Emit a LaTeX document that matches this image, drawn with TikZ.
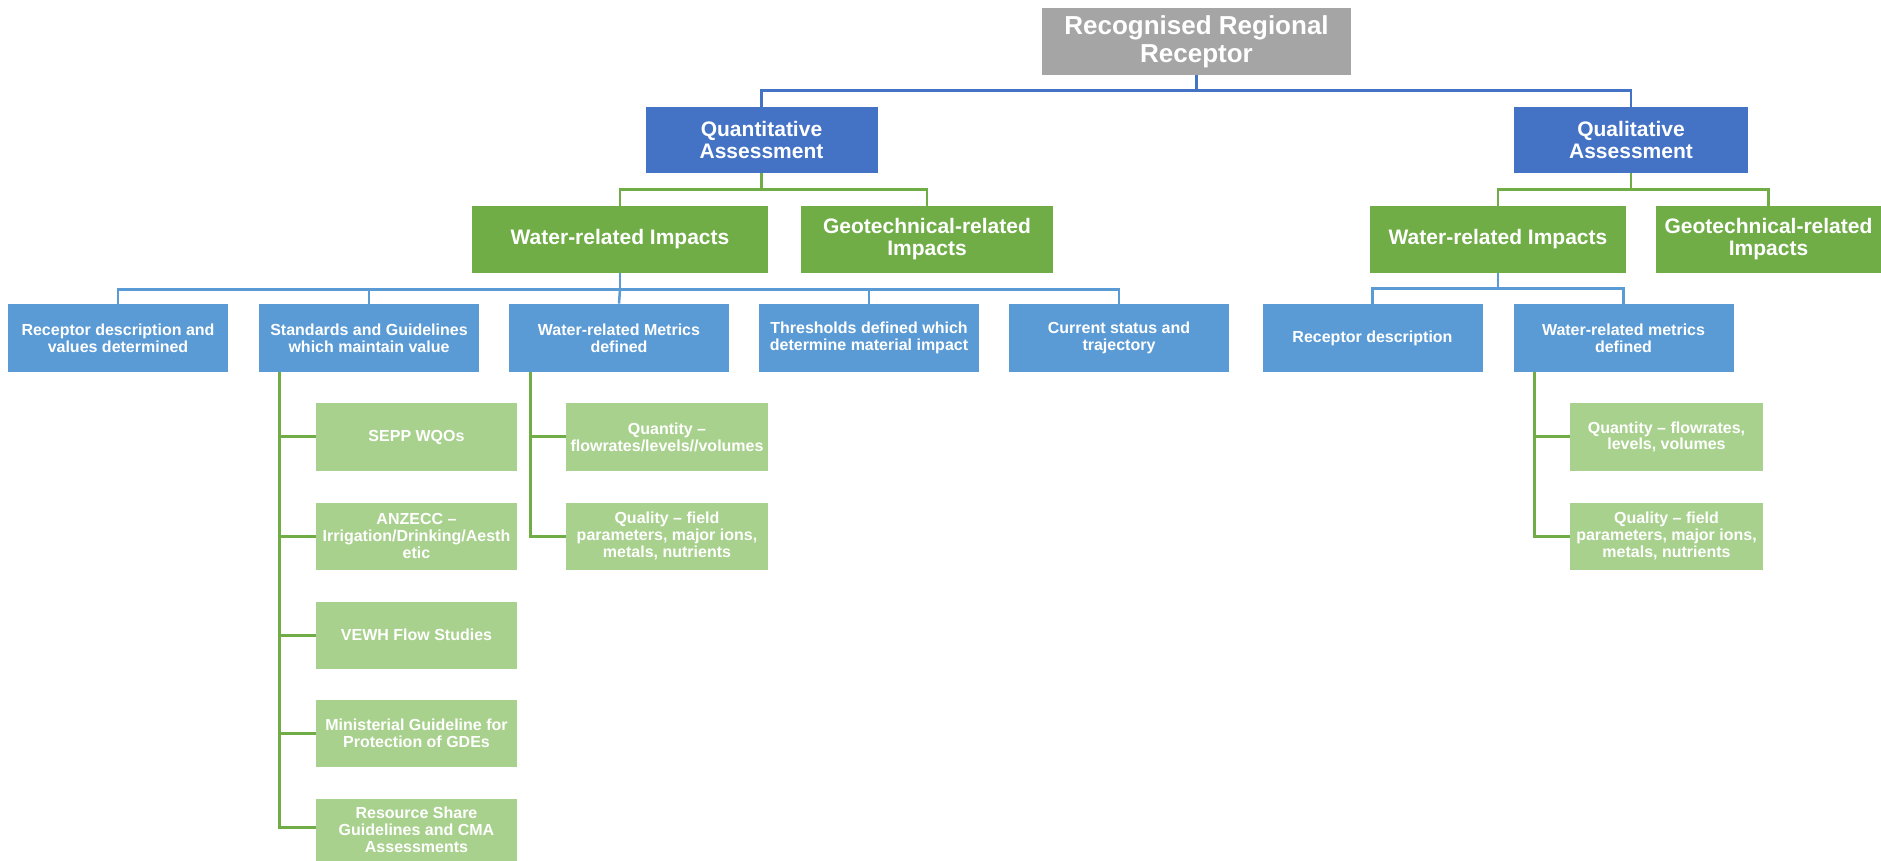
\documentclass[tikz,border=0pt]{standalone}
\usepackage{fontspec}
\setmainfont{Liberation Sans}
\definecolor{rootgray}{HTML}{A5A5A5}
\definecolor{darkblue}{HTML}{4472C4}
\definecolor{midgreen}{HTML}{70AD47}
\definecolor{midblue}{HTML}{5B9BD5}
\definecolor{lightgreen}{HTML}{A9D18E}
\tikzset{
  box/.style={inner sep=0pt, align=center, text=white, font=\bfseries},
  rootbox/.style={box, fill=rootgray, font=\bfseries\fontsize{13}{13.8}\selectfont},
  assessbox/.style={box, fill=darkblue, minimum width=116pt, minimum height=33pt, font=\bfseries\fontsize{10.5}{11}\selectfont},
  impactbox/.style={box, fill=midgreen, minimum height=33.5pt, font=\bfseries\fontsize{10.5}{11}\selectfont},
  itembox/.style={box, fill=midblue, minimum width=110pt, minimum height=34pt, font=\bfseries\fontsize{8}{8.4}\selectfont},
  subbox/.style={box, fill=lightgreen, minimum height=33.5pt, font=\bfseries\fontsize{8}{8.4}\selectfont},
  cdark/.style={draw=darkblue, line width=1.25pt},
  cblue/.style={draw=midblue, line width=1.25pt},
  cgreen/.style={draw=midgreen, line width=1.25pt},
  csub/.style={draw=midgreen, line width=1.5pt},
}
\begin{document}
\begin{tikzpicture}[x=0.5pt, y=-0.5pt]
\useasboundingbox (0,0) rectangle (1881,861);
% level 0
\node[rootbox, minimum width=154.5pt, minimum height=33.5pt] (root) at (1196.5,41.5) {Recognised Regional\\Receptor};
% level 1
\node[assessbox] (quant) at (761.5,140) {Quantitative\\Assessment};
\node[assessbox, minimum width=117pt] (qual) at (1631,140) {Qualitative\\Assessment};
% level 2
\node[impactbox, minimum width=148pt] (waterL) at (620,239.5) {Water-related Impacts};
\node[impactbox, minimum width=126pt] (geoL) at (927,239.5) {Geotechnical-related\\Impacts};
\node[impactbox, minimum width=128pt] (waterR) at (1498,239.5) {Water-related Impacts};
\node[impactbox, minimum width=112.5pt] (geoR) at (1768.5,239.5) {Geotechnical-related\\Impacts};
% level 3
\node[itembox] (recL) at (118,338) {Receptor description and\\values determined};
\node[itembox] (std) at (369,338) {Standards and Guidelines\\which maintain value};
\node[itembox] (met) at (619,338) {Water-related Metrics\\defined};
\node[itembox] (thr) at (869,338) {Thresholds defined which\\determine material impact};
\node[itembox] (cur) at (1119,338) {Current status and\\trajectory};
\node[itembox] (recR) at (1372.5,338) {Receptor description};
\node[itembox] (metR) at (1623.5,338) {Water-related metrics\\defined};
% level 4 left
\node[subbox, minimum width=100.5pt] (sepp) at (416.5,437) {SEPP WQOs};
\node[subbox, minimum width=100.5pt] (anz) at (416.5,536) {ANZECC --\\Irrigation/Drinking/Aesth\\etic};
\node[subbox, minimum width=100.5pt] (vewh) at (416.5,635) {VEWH Flow Studies};
\node[subbox, minimum width=100.5pt] (mini) at (416.5,733.5) {Ministerial Guideline for\\Protection of GDEs};
\node[subbox, minimum width=100.5pt, minimum height=31pt] (res) at (416.5,830) {Resource Share\\Guidelines and CMA\\Assessments};
% level 4 middle
\node[subbox, minimum width=101pt] (qtyL) at (667,437) {Quantity --\\flowrates/levels//volumes};
\node[subbox, minimum width=101pt] (qlyL) at (667,536) {Quality -- field\\parameters, major ions,\\metals, nutrients};
% level 4 right
\node[subbox, minimum width=96.5pt] (qtyR) at (1666.5,437) {Quantity -- flowrates,\\levels, volumes};
\node[subbox, minimum width=96.5pt] (qlyR) at (1666.5,536) {Quality -- field\\parameters, major ions,\\metals, nutrients};
% connectors root
\draw[cdark] (root.south) -- ++(0,15) coordinate (b1);
\draw[cdark] (quant.north) |- (b1) -| (qual.north);
% connectors assessments
\draw[cgreen] (quant.south) -- ++(0,16) coordinate (g1);
\draw[cgreen] (waterL.north) |- (g1) -| (geoL.north);
\draw[cgreen] (qual.south) -- ++(0,16) coordinate (g2);
\draw[cgreen] (waterR.north) |- (g2) -| (geoR.north);
% connectors water impacts
\draw[cblue] (waterL.south) -- ++(0,16) coordinate (b2);
\draw[cblue] (recL.north) |- (b2) -| (cur.north);
\draw[cblue] (std.north) -- (std.north |- b2);
\draw[cblue] (thr.north) -- (thr.north |- b2);
\draw[cblue] (b2) -- (met.north);
\draw[cblue] (waterR.south) -- ++(0,15) coordinate (b3);
\draw[cblue] (recR.north) |- (b3) -| (metR.north);
% sub connectors
\coordinate (s1) at ([xshift=10.25pt]std.south west);
\draw[csub] (s1) |- (sepp.west);
\draw[csub] (s1) |- (anz.west);
\draw[csub] (s1) |- (vewh.west);
\draw[csub] (s1) |- (mini.west);
\draw[csub] (s1) |- ([yshift=1.5pt]res.west);
\coordinate (s2) at ([xshift=11pt]met.south west);
\draw[csub] (s2) |- (qtyL.west);
\draw[csub] (s2) |- (qlyL.west);
\coordinate (s3) at ([xshift=10.75pt]metR.south west);
\draw[csub] (s3) |- (qtyR.west);
\draw[csub] (s3) |- (qlyR.west);
\end{tikzpicture}
\end{document}
